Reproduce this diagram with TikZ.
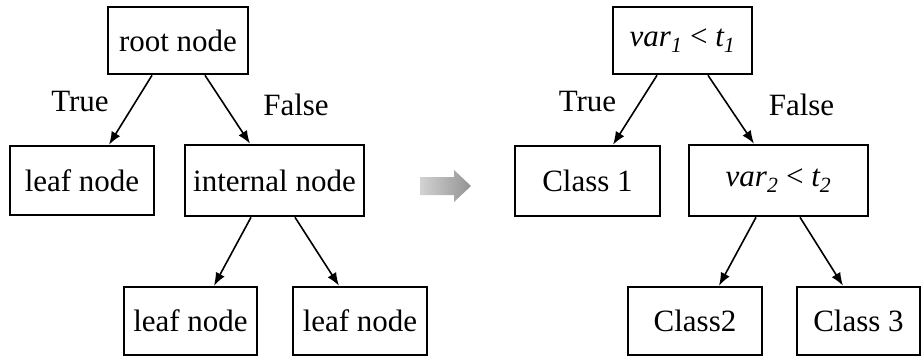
\documentclass[tikz,border=0pt]{standalone}
\usepackage{fontspec}
\setmainfont{Liberation Serif}
\usetikzlibrary{arrows.meta}
\begin{document}
\begin{tikzpicture}[x=1pt,y=-1pt,
  box/.style={draw=black,line width=2.6pt,inner sep=0pt,font=\fontsize{31}{37}\selectfont},
  lbl/.style={inner sep=0pt,font=\fontsize{31}{37}\selectfont},
  edge/.style={line width=1.6pt,-{Latex[length=13pt,width=10pt]}}]
\useasboundingbox (0,0) rectangle (924,359);
% left tree
\node[box,minimum width=140pt,minimum height=67pt] (root) at (178,40.5) {root node};
\node[box,minimum width=144pt,minimum height=69pt] (leafL) at (82,180.5) {leaf node};
\node[box,minimum width=179pt,minimum height=71pt] (int) at (274.5,180.5) {internal node};
\node[box,minimum width=133pt,minimum height=68pt] (leafA) at (190.5,321) {leaf node};
\node[box,minimum width=134pt,minimum height=68pt] (leafB) at (360,321) {leaf node};
\node[lbl] (t1) at (80,101) {True};
\node[lbl] (f1) at (296,105) {False};
\draw[edge] ([xshift=-26pt]root.south) -- ([xshift=27pt]leafL.north);
\draw[edge] ([xshift=27pt]root.south) -- ([xshift=-24.5pt]int.north);
\draw[edge] ([xshift=-23.5pt]int.south) -- ([xshift=23.5pt]leafA.north);
\draw[edge] ([xshift=20.5pt]int.south) -- ([xshift=-21pt]leafB.north);
% gray arrow
\shade[left color=gray!35,right color=gray!85]
  (420,177) -- (454,177) -- (454,170) -- (471,186) -- (454,202) -- (454,195) -- (420,195) -- cycle;
% right tree
\node[box,minimum width=139pt,minimum height=67pt] (v1) at (682.5,40.5) {\itshape var\textsubscript{1}\upshape{} < \itshape t\textsubscript{1}};
\node[box,minimum width=145pt,minimum height=70pt] (c1) at (587.5,181) {Class 1};
\node[box,minimum width=179pt,minimum height=71pt] (v2) at (778.5,180.5) {\itshape var\textsubscript{2}\upshape{} < \itshape t\textsubscript{2}};
\node[box,minimum width=134pt,minimum height=68pt] (c2) at (695,321) {Class2};
\node[box,minimum width=123pt,minimum height=68pt] (c3) at (858.5,321) {Class 3};
\node[lbl] (t2) at (587.5,101) {True};
\node[lbl] (f2) at (801.5,105) {False};
\draw[edge] ([xshift=-25.5pt]v1.south) -- ([xshift=25.5pt]c1.north);
\draw[edge] ([xshift=25.5pt]v1.south) -- ([xshift=-24.5pt]v2.north);
\draw[edge] ([xshift=-22.5pt]v2.south) -- ([xshift=24pt]c2.north);
\draw[edge] ([xshift=21.5pt]v2.south) -- ([xshift=-15.5pt]c3.north);
\end{tikzpicture}
\end{document}
